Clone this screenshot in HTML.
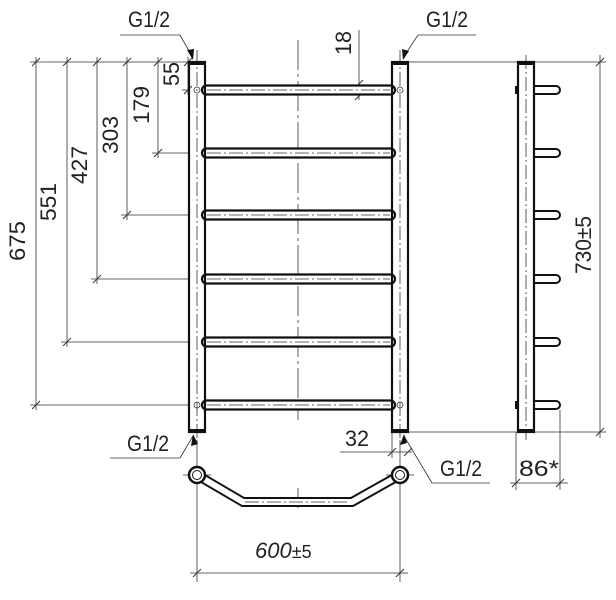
<!DOCTYPE html>
<html><head><meta charset="utf-8"><style>
html,body{margin:0;padding:0;background:#fff;}
svg{display:block}
text{font-family:"Liberation Sans",sans-serif;font-size:22px;fill:#222;}
</style></head><body>
<svg width="616" height="600" viewBox="0 0 616 600" xmlns="http://www.w3.org/2000/svg">
<defs>
<g id="bar"><rect x="202" y="-4.5" width="193" height="9" rx="4.5" fill="#fff" stroke="#111" stroke-width="2.2"/>
<line x1="207" y1="0" x2="390" y2="0" stroke="#333" stroke-width="0.8" stroke-dasharray="14,3,2,3"/></g>
<g id="peg"><path d="M534,-4 H556 A4,4 0 0 1 556,4 H534" fill="#fff" stroke="#111" stroke-width="2"/></g>
</defs>
<g stroke="#333" stroke-width="0.8" fill="none">
<line x1="30" y1="62" x2="190" y2="62"/>
<line x1="408" y1="62" x2="606" y2="62"/>
<line x1="408" y1="432" x2="606" y2="432"/>
<line x1="36" y1="57" x2="36" y2="410"/>
<line x1="67" y1="57" x2="67" y2="347"/>
<line x1="97" y1="57" x2="97" y2="284"/>
<line x1="127" y1="57" x2="127" y2="220"/>
<line x1="158" y1="57" x2="158" y2="158"/>
<line x1="188" y1="57" x2="188" y2="95"/>
<line x1="30" y1="405" x2="190" y2="405"/>
<line x1="61" y1="342" x2="190" y2="342"/>
<line x1="91" y1="279" x2="190" y2="279"/>
<line x1="121" y1="215" x2="190" y2="215"/>
<line x1="152" y1="153" x2="190" y2="153"/>
<line x1="182" y1="90" x2="190" y2="90"/>
<g stroke-width="1">
<line x1="32" y1="66" x2="40" y2="58"/><line x1="63" y1="66" x2="71" y2="58"/><line x1="93" y1="66" x2="101" y2="58"/><line x1="123" y1="66" x2="131" y2="58"/><line x1="154" y1="66" x2="162" y2="58"/><line x1="184" y1="66" x2="192" y2="58"/>
<line x1="32" y1="409" x2="40" y2="401"/><line x1="63" y1="346" x2="71" y2="338"/><line x1="93" y1="283" x2="101" y2="275"/><line x1="123" y1="219" x2="131" y2="211"/><line x1="154" y1="157" x2="162" y2="149"/><line x1="184" y1="94" x2="192" y2="86"/>
<line x1="596" y1="66" x2="604" y2="58"/><line x1="596" y1="436" x2="604" y2="428"/>
<line x1="355" y1="88" x2="363" y2="80"/><line x1="355" y1="100" x2="363" y2="92"/>
</g>
<line x1="600" y1="55" x2="600" y2="438"/>
<line x1="359" y1="30" x2="359" y2="100"/>
<line x1="298" y1="40" x2="298" y2="420" stroke-dasharray="30,4,3,4"/>
<line x1="298" y1="488" x2="298" y2="508"/>
<line x1="197" y1="50" x2="197" y2="440" stroke-dasharray="14,3,2,3"/>
<line x1="400" y1="50" x2="400" y2="440" stroke-dasharray="14,3,2,3"/>
<line x1="526" y1="55" x2="526" y2="440" stroke-dasharray="14,3,2,3"/>
<line x1="120" y1="35" x2="180" y2="35"/><line x1="180" y1="35" x2="193" y2="58"/>
<line x1="476" y1="35" x2="418" y2="35"/><line x1="418" y1="35" x2="403" y2="58"/>
<line x1="110" y1="458" x2="180" y2="458"/><line x1="180" y1="458" x2="193" y2="436"/>
<line x1="490" y1="483" x2="432" y2="483"/><line x1="432" y1="483" x2="404" y2="436"/>
<line x1="340" y1="452" x2="412" y2="452"/><line x1="392" y1="432" x2="392" y2="458"/>
<g stroke-width="1"><line x1="388" y1="456" x2="396" y2="448"/><line x1="404" y1="456" x2="412" y2="448"/></g>
<line x1="516" y1="432" x2="516" y2="490"/><line x1="560" y1="410" x2="560" y2="490"/>
<line x1="510" y1="483" x2="568" y2="483"/>
<g stroke-width="1"><line x1="512" y1="487" x2="520" y2="479"/><line x1="556" y1="487" x2="564" y2="479"/></g>
<line x1="197" y1="440" x2="197" y2="582"/><line x1="400" y1="440" x2="400" y2="582"/>
<line x1="190" y1="573" x2="408" y2="573"/>
<g stroke-width="1"><line x1="193" y1="577" x2="201" y2="569"/><line x1="396" y1="577" x2="404" y2="569"/></g>
<line x1="183" y1="475" x2="211" y2="475"/><line x1="386" y1="475" x2="414" y2="475"/>
</g>
<g fill="#111">
<polygon points="193,60 187,50 194,49"/>
<polygon points="403,60 402,49 409,51"/>
<polygon points="193,434 191,446 198,444"/>
<polygon points="404,434 400,445 407,443"/>
</g>
<use href="#bar" y="90"/><use href="#bar" y="153"/><use href="#bar" y="215"/><use href="#bar" y="279"/><use href="#bar" y="342"/><use href="#bar" y="405"/>
<rect x="189" y="62" width="16" height="370" fill="none" stroke="#111" stroke-width="2.2"/>
<rect x="392" y="62" width="16" height="370" fill="none" stroke="#111" stroke-width="2.2"/>
<rect x="189" y="61" width="16" height="4" fill="#111"/><rect x="392" y="61" width="16" height="4" fill="#111"/>
<rect x="189" y="429" width="16" height="4" fill="#111"/><rect x="392" y="429" width="16" height="4" fill="#111"/>
<g fill="none" stroke="#333" stroke-width="0.8"><circle cx="197" cy="90" r="3"/><circle cx="400" cy="90" r="3"/><circle cx="197" cy="405" r="3"/><circle cx="400" cy="405" r="3"/></g>
<use href="#peg" y="90"/><use href="#peg" y="153"/><use href="#peg" y="215"/><use href="#peg" y="279"/><use href="#peg" y="342"/><use href="#peg" y="405"/>
<rect x="518" y="62" width="16" height="370" fill="none" stroke="#111" stroke-width="2.2"/>
<rect x="518" y="61" width="16" height="4" fill="#111"/><rect x="518" y="429" width="16" height="4" fill="#111"/>
<rect x="515" y="86" width="3" height="8" fill="#111"/><rect x="515" y="401" width="3" height="8" fill="#111"/>
<path d="M197,475 L243,502 H352 L400,475" fill="none" stroke="#111" stroke-width="10" stroke-linejoin="round"/>
<path d="M197,475 L243,502 H352 L400,475" fill="none" stroke="#fff" stroke-width="6" stroke-linejoin="round"/>
<line x1="245" y1="502" x2="350" y2="502" stroke="#333" stroke-width="0.8" stroke-dasharray="14,3,2,3"/>
<circle cx="197" cy="475" r="8" fill="#fff" stroke="#111" stroke-width="2.5"/>
<circle cx="197" cy="475" r="4.5" fill="none" stroke="#111" stroke-width="1"/>
<circle cx="400" cy="475" r="8" fill="#fff" stroke="#111" stroke-width="2.5"/>
<circle cx="400" cy="475" r="4.5" fill="none" stroke="#111" stroke-width="1"/>
<text x="128" y="27" textLength="42" lengthAdjust="spacingAndGlyphs">G1/2</text>
<text x="426" y="27" textLength="42" lengthAdjust="spacingAndGlyphs">G1/2</text>
<text x="127" y="451" textLength="42" lengthAdjust="spacingAndGlyphs">G1/2</text>
<text x="440" y="476" textLength="42" lengthAdjust="spacingAndGlyphs">G1/2</text>
<text x="345" y="446" textLength="24" lengthAdjust="spacingAndGlyphs">32</text>
<text x="519" y="476" textLength="40" lengthAdjust="spacingAndGlyphs">86*</text>
<text x="255" y="558" font-style="italic">600<tspan font-style="normal" font-size="18">±5</tspan></text>
<text transform="translate(25,241) rotate(-90)" text-anchor="middle" textLength="40" lengthAdjust="spacingAndGlyphs">675</text>
<text transform="translate(56,202) rotate(-90)" text-anchor="middle" textLength="38" lengthAdjust="spacingAndGlyphs">551</text>
<text transform="translate(87,165) rotate(-90)" text-anchor="middle" textLength="38" lengthAdjust="spacingAndGlyphs">427</text>
<text transform="translate(118,135) rotate(-90)" text-anchor="middle" textLength="38" lengthAdjust="spacingAndGlyphs">303</text>
<text transform="translate(149,105) rotate(-90)" text-anchor="middle" textLength="38" lengthAdjust="spacingAndGlyphs">179</text>
<text transform="translate(179,74) rotate(-90)" text-anchor="middle" textLength="24" lengthAdjust="spacingAndGlyphs">55</text>
<text transform="translate(351,43) rotate(-90)" text-anchor="middle" textLength="24" lengthAdjust="spacingAndGlyphs">18</text>
<text transform="translate(591,245) rotate(-90)" text-anchor="middle" textLength="58" lengthAdjust="spacingAndGlyphs">730±5</text>
</svg>
</body></html>
